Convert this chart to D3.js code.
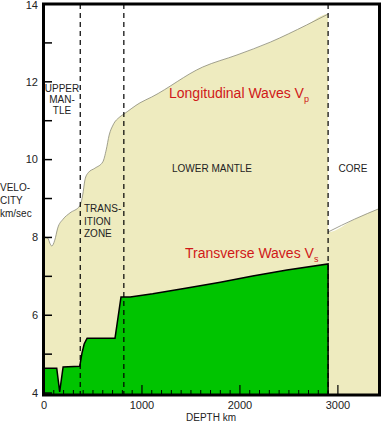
<!DOCTYPE html>
<html>
<head>
<meta charset="utf-8">
<script src="https://cdn.jsdelivr.net/npm/d3@7"></script>
<style>
  body { margin: 0; background: #fff; }
  svg { display: block; font-family: "Liberation Sans", Arial, sans-serif; }
</style>
</head>
<body>
<div id="chart"></div>
<script>
// Vitesse des ondes sismiques en fonction de la profondeur
const vpDepth = [0, 40, 60, 80, 110, 140, 195, 265, 365, 395, 418, 450, 520, 600, 635, 665, 705, 775, 815, 980, 1100, 1620, 1970, 2310, 2680, 2900];
const vpMantle = [8.01, 7.98, 7.85, 7.78, 7.93, 8.24, 8.47, 8.63, 8.81, 9.09, 9.48, 9.66, 9.78, 9.94, 10.25, 10.63, 10.89, 11.10, 11.17, 11.46, 11.61, 12.38, 12.69, 13.02, 13.46, 13.74];
const coreDepth = [2900, 3170, 3440];
const vpCore = [8.14, 8.47, 8.76];
const vsDepth = [0, 130, 160, 195, 365, 388, 410, 440, 725, 786, 880, 1110, 1460, 1800, 2130, 2480, 2900, 2900];
const vsMantle = [4.64, 4.64, 4.03, 4.67, 4.69, 5.03, 5.26, 5.41, 5.41, 6.47, 6.47, 6.55, 6.70, 6.85, 7.01, 7.16, 7.32, 3.95];
const boundaries = [370, 815, 2900];
const yTicks = [4, 6, 8, 10, 12, 14];
const xTicks = [0, 1000, 2000, 3000];

const W = 381, H = 423;
const svg = d3.select("#chart").append("svg").attr("width", W).attr("height", H);

const x = d3.scaleLinear().domain([0, 3440]).range([44, 381]);
const y = d3.scaleLinear().domain([3.95, 14]).range([395, 4]);

const vp = vpDepth.map((d, i) => [d, vpMantle[i]]);
const core = coreDepth.map((d, i) => [d, vpCore[i]]);
const vs = vsDepth.map((d, i) => [d, vsMantle[i]]);

// Zone beige (Vp) : manteau + noyau
const area = d3.area().x(d => x(d[0])).y0(y(3.95)).y1(d => y(d[1]));
svg.append("path").datum(vp.concat(core))
    .attr("d", area.curve(d3.curveMonotoneX))
    .attr("fill", "#eeebbf");
const line = d3.line().x(d => x(d[0])).y(d => y(d[1])).curve(d3.curveMonotoneX);
[vp, core].forEach(seg => {
    svg.append("path").datum(seg).attr("d", line)
        .attr("fill", "none").attr("stroke", "#8a8a78").attr("stroke-width", 0.8);
});

// Zone verte (Vs)
svg.append("path").datum(vs)
    .attr("d", d3.area().x(d => x(d[0])).y0(y(3.95)).y1(d => y(d[1])).curve(d3.curveLinear))
    .attr("fill", "#00c400");
svg.append("path").datum(vs)
    .attr("d", d3.line().x(d => x(d[0])).y(d => y(d[1])))
    .attr("fill", "none").attr("stroke", "#000").attr("stroke-width", 1.5);

// Limites en pointillés
svg.selectAll("line.bound").data(boundaries).enter().append("line")
    .attr("x1", d => x(d)).attr("x2", d => x(d))
    .attr("y1", y(14)).attr("y2", y(3.95))
    .attr("stroke", "#000").attr("stroke-width", 1.2)
    .attr("stroke-dasharray", "5,4");

// Ticks
const yMinor = d3.range(5, 14, 2);
svg.selectAll("line.yt").data(yTicks.concat(yMinor)).enter().append("line")
    .attr("x1", x(0)).attr("x2", x(0) + 8)
    .attr("y1", d => y(d)).attr("y2", d => y(d))
    .attr("stroke", "#000").attr("stroke-width", 1.5);
const xMinor = d3.range(100, 3000, 100).filter(d => d % 1000 !== 0);
svg.selectAll("line.xm").data(xMinor).enter().append("line")
    .attr("x1", d => x(d)).attr("x2", d => x(d))
    .attr("y1", y(3.95)).attr("y2", y(3.95) - 5)
    .attr("stroke", "#000").attr("stroke-width", 1);
svg.selectAll("line.xM").data(xTicks.slice(1)).enter().append("line")
    .attr("x1", d => x(d)).attr("x2", d => x(d))
    .attr("y1", y(3.95)).attr("y2", y(3.95) - 10)
    .attr("stroke", "#000").attr("stroke-width", 1.2);

// Cadre
svg.append("rect")
    .attr("x", x(0) - 0.5).attr("y", y(14))
    .attr("width", 380 - x(0)).attr("height", y(3.95) - y(14))
    .attr("fill", "none").attr("stroke", "#000").attr("stroke-width", 3);

// Libellés des axes
svg.selectAll("text.yl").data(yTicks).enter().append("text")
    .attr("x", 38).attr("y", d => Math.max(y(d), 5)).attr("dy", "0.35em")
    .attr("text-anchor", "end").attr("font-size", 11).attr("fill", "#222")
    .text(d => d);
svg.selectAll("text.xl").data(xTicks).enter().append("text")
    .attr("x", d => x(d)).attr("y", 409)
    .attr("text-anchor", "middle").attr("font-size", 11).attr("fill", "#222")
    .text(d => d);
svg.append("text").attr("x", 211).attr("y", 421)
    .attr("text-anchor", "middle").attr("font-size", 10).attr("fill", "#222")
    .text("DEPTH km");

function block(lines, xx, yy, anchor, lh) {
    const t = svg.append("text").attr("font-size", 10).attr("fill", "#222")
        .attr("text-anchor", anchor);
    lines.forEach((s, i) => t.append("tspan").attr("x", xx).attr("y", yy + i * lh).text(s));
}
block(["VELO-", "CITY", "km/sec"], 0, 191, "start", 13);
block(["UPPER", "MAN-", "TLE"], 62, 92, "middle", 11);
block(["TRANS-", "ITION", "ZONE"], 84, 212, "start", 12.5);
block(["LOWER MANTLE"], 212, 172, "middle", 12);
block(["CORE"], 353, 172, "middle", 12);

function waveLabel(main, sub, xx, yy) {
    const t = svg.append("text").attr("x", xx).attr("y", yy)
        .attr("font-size", 14).attr("fill", "#d01818");
    t.append("tspan").text(main);
    t.append("tspan").attr("font-size", 9).attr("dy", 4).text(sub);
}
waveLabel("Longitudinal Waves V", "p", 169, 98);
waveLabel("Transverse Waves V", "s", 185, 258);
</script>
</body>
</html>
